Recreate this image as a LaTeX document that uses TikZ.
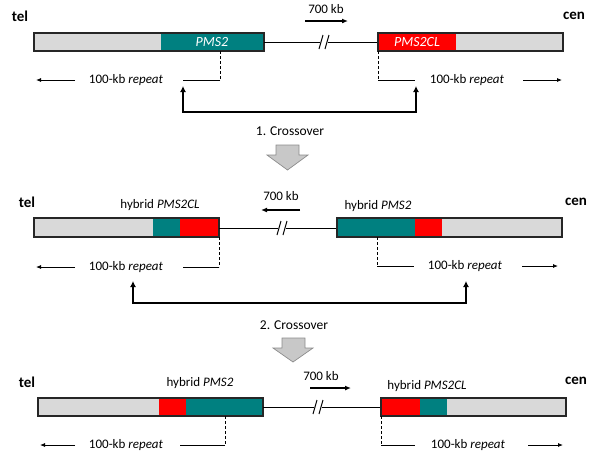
\documentclass[tikz,border=0pt]{standalone}
\usepackage{fontspec}
\setmainfont{Carlito}
\usetikzlibrary{arrows.meta,positioning}

\definecolor{pmsteal}{RGB}{0,128,128}
\definecolor{pmsred}{RGB}{255,0,0}
\definecolor{bargrey}{RGB}{217,217,217}
\definecolor{blockgrey}{RGB}{200,200,200}

\begin{document}
\begin{tikzpicture}[x=1pt,y=-1pt,
    bar/.style={draw=black!85,line width=1.5pt},
    lbl/.style={font=\fontsize{13}{15}\selectfont,inner sep=1pt},
    endlbl/.style={font=\fontsize{15}{17}\selectfont\bfseries,inner sep=1pt},
    genelbl/.style={font=\fontsize{14}{16}\selectfont\itshape,text=white,inner sep=1pt},
    reparr/.style={line width=0.8pt,-{Latex[length=5pt,width=4pt]}},
    kbarr/.style={line width=1.2pt,-{Latex[length=6pt,width=5pt]}},
    cross/.style={line width=2pt,{Latex[length=6pt,width=6pt]}-{Latex[length=6pt,width=6pt]}},
    tickline/.style={densely dashed,line width=0.7pt},
    blockarr/.style={fill=blockgrey,draw=black!45,line width=0.7pt}]
  \useasboundingbox (0,0) rectangle (600,459);

  % --- before crossover
  \node[endlbl] (tel1) at (20,16) {tel};
  \node[endlbl] (cen1) at (574,16) {cen};
  \fill[bargrey] (34,33) rectangle (161,51);
  \fill[pmsteal] (161,33) rectangle (264,51);
  \draw[bar] (34,33) rectangle (264,51);
  \node[genelbl] (pms1) at (212,42) {PMS2};
  \draw[line width=1pt] (264,42) -- (378,42);
  \fill[white] (320,35) rectangle (328,49);
  \draw[line width=1pt] (319,49) -- (323,35) (325,49) -- (329,35);
  \fill[pmsred] (378,33) rectangle (456,51);
  \fill[bargrey] (456,33) rectangle (563,51);
  \draw[bar] (378,33) rectangle (563,51);
  \node[genelbl] (pmscl1) at (417,42) {PMS2CL};
  \node[lbl] (kb1) at (326,9) {700 kb};
  \draw[kbarr] (305,21) -- (348,21);
  \node[lbl] (rep1l) at (126,80) {100-kb \textit{repeat}};
  \draw[tickline] (220,51) -- (220,80);
  \draw[line width=0.8pt] (220,80) -- (183,80);
  \draw[reparr] (75,80) -- (36,80);
  \node[lbl] (rep1r) at (467,80) {100-kb \textit{repeat}};
  \draw[tickline] (378,51) -- (378,80);
  \draw[line width=0.8pt] (378,80) -- (415,80);
  \draw[reparr] (523,80) -- (562,80);
  \draw[cross] (183,86) -- (183,112) -- (416,112) -- (416,86);

  \node[lbl,font=\fontsize{13.5}{16}\selectfont] (step1) at (290,131) {1. Crossover};
  \draw[blockarr] (276,145) -- (299,145) -- (299,155) -- (308,155) -- (287.5,170)
    -- (267,155) -- (276,155) -- cycle;

  % --- after first crossover
  \node[endlbl] (tel2) at (27,202) {tel};
  \node[endlbl] (cen2) at (576,202) {cen};
  \fill[bargrey] (34,218) rectangle (153,237);
  \fill[pmsteal] (153,218) rectangle (180,237);
  \fill[pmsred] (180,218) rectangle (219,237);
  \draw[bar] (34,218) rectangle (219,237);
  \node[lbl] (hyb2l) at (160,205) {hybrid \textit{PMS2CL}};
  \draw[line width=1pt] (219,228) -- (337,228);
  \fill[white] (278,221) rectangle (286,235);
  \draw[line width=1pt] (277,235) -- (281,221) (283,235) -- (287,221);
  \fill[pmsteal] (337,218) rectangle (415,237);
  \fill[pmsred] (415,218) rectangle (442,237);
  \fill[bargrey] (442,218) rectangle (562,237);
  \draw[bar] (337,218) rectangle (562,237);
  \node[lbl] (hyb2r) at (378,206) {hybrid \textit{PMS2}};
  \node[lbl] (kb2) at (281,196) {700 kb};
  \draw[kbarr] (300,210) -- (261,210);
  \node[lbl] (rep2l) at (126,267) {100-kb \textit{repeat}};
  \draw[tickline] (219,237) -- (219,267);
  \draw[line width=0.8pt] (219,267) -- (183,267);
  \draw[reparr] (75,267) -- (36,267);
  \node[lbl] (rep2r) at (465,266) {100-kb \textit{repeat}};
  \draw[tickline] (377,237) -- (377,266);
  \draw[line width=0.8pt] (377,266) -- (414,266);
  \draw[reparr] (522,266) -- (558,266);
  \draw[cross] (133,281) -- (133,303) -- (466,303) -- (466,281);

  \node[lbl,font=\fontsize{13.5}{16}\selectfont] (step2) at (294,325) {2. Crossover};
  \draw[blockarr] (282,338) -- (305,338) -- (305,348) -- (313,348) -- (293,362)
    -- (273,348) -- (282,348) -- cycle;

  % --- after second crossover
  \node[endlbl] (tel3) at (27,382) {tel};
  \node[endlbl] (cen3) at (576,381) {cen};
  \fill[bargrey] (38,398) rectangle (159,416);
  \fill[pmsred] (159,398) rectangle (186,416);
  \fill[pmsteal] (186,398) rectangle (263,416);
  \draw[bar] (38,398) rectangle (263,416);
  \node[lbl] (hyb3l) at (200,383) {hybrid \textit{PMS2}};
  \draw[line width=1pt] (263,407) -- (381,407);
  \fill[white] (314,400) rectangle (322,414);
  \draw[line width=1pt] (313,414) -- (317,400) (319,414) -- (323,400);
  \fill[pmsred] (381,398) rectangle (420,416);
  \fill[pmsteal] (420,398) rectangle (447,416);
  \fill[bargrey] (447,398) rectangle (566,416);
  \draw[bar] (381,398) rectangle (566,416);
  \node[lbl] (hyb3r) at (427,386) {hybrid \textit{PMS2CL}};
  \node[lbl] (kb3) at (321,376) {700 kb};
  \draw[kbarr] (310,388) -- (351,388);
  \node[lbl] (rep3l) at (126,445) {100-kb \textit{repeat}};
  \draw[tickline] (225,416) -- (225,445);
  \draw[line width=0.8pt] (225,445) -- (180,445);
  \draw[reparr] (75,445) -- (40,445);
  \node[lbl] (rep3r) at (468,445) {100-kb \textit{repeat}};
  \draw[tickline] (381,416) -- (381,445);
  \draw[line width=0.8pt] (381,445) -- (415,445);
  \draw[reparr] (528,445) -- (563,445);
\end{tikzpicture}
\end{document}
